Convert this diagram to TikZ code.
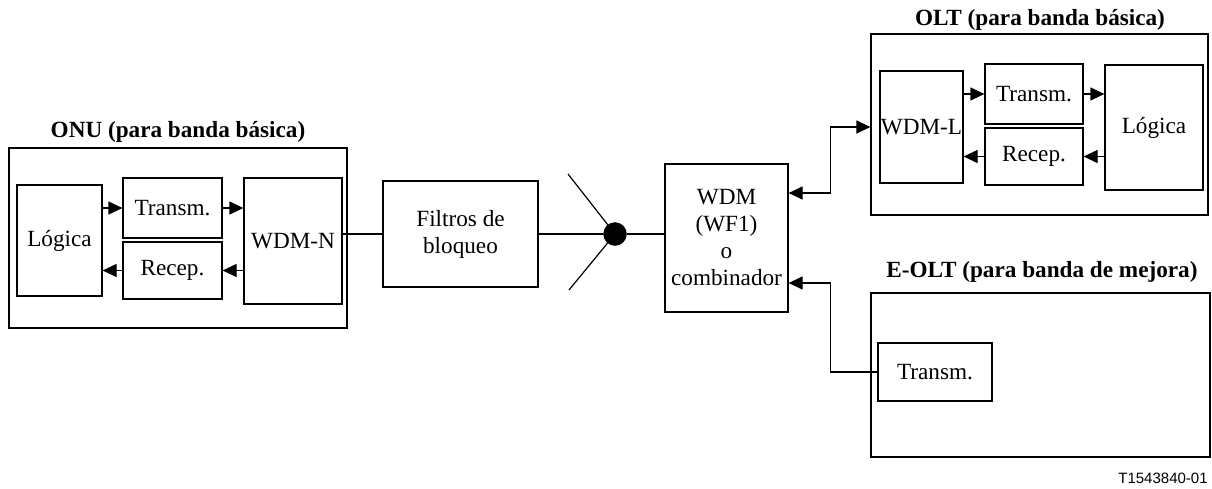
\documentclass[tikz,border=0pt]{standalone}
\usepackage{fontspec}
\setmainfont{Liberation Serif}
\newfontfamily\labelsans{Liberation Sans}
\usetikzlibrary{arrows.meta,calc}
\tikzset{
  box/.style={draw, line width=1.2pt, rectangle, inner sep=0.5pt, align=center,
     font=\fontsize{23.2}{27}\selectfont},
  ttl/.style={font=\fontsize{23.2}{26}\selectfont\bfseries, inner sep=0pt},
  conn/.style={line width=1.2pt},
  arr/.style={conn, -{Triangle[length=14pt,width=13pt]}},
  arrboth/.style={conn, {Triangle[length=14pt,width=13pt]}-{Triangle[length=14pt,width=13pt]}},
}
\begin{document}
\begin{tikzpicture}[x=1pt,y=-1pt]
\useasboundingbox (0,0) rectangle (1212,488);
% ONU
\node[box, minimum width=338pt, minimum height=180pt] (onu) at (178,238) {};
\node[ttl] (onut) at (178,132) {ONU (para banda básica)};
\node[box, minimum width=85pt, minimum height=111pt] (logN) at (59.5,240.5) {Lógica};
\node[box, minimum width=99pt, minimum height=60pt] (txN) at (172.5,208) {Transm.};
\node[box, minimum width=99pt, minimum height=57pt] (rxN) at (172.5,270.5) {Recep.};
\node[box, minimum width=98pt, minimum height=126pt] (wdmN) at (293,241) {WDM-N};
\draw[arr] (logN.east |- txN.west) -- (txN.west);
\draw[arr] (txN.east) -- (txN.east -| wdmN.west);
\draw[arr] (rxN.east -| wdmN.west) -- (rxN.east);
\draw[arr] (rxN.west) -- (rxN.west -| logN.east);
% Filtros
\node[box, minimum width=155pt, minimum height=106pt] (filt) at (460.5,234) {Filtros de\\bloqueo};
\draw[conn] (filt.west -| wdmN.east) -- (filt.west);
% splitter dot
\node[circle, fill=black, draw=black, minimum size=23pt, inner sep=0pt] (dot) at (615,234) {};
\coordinate (br1) at (568,174);
\coordinate (br2) at (569,290);
\draw[conn] (br1) -- (dot.center);
\draw[conn] (br2) -- (dot.center);
\draw[conn] (filt.east) -- (dot);
% WDM combiner
\node[box, minimum width=123pt, minimum height=148pt] (wdm) at (726.5,238) {WDM\\(WF1)\\o\\combinador};
\draw[conn] (dot) -- (dot -| wdm.west);
% OLT
\node[box, minimum width=337pt, minimum height=181pt] (olt) at (1039.5,124.5) {};
\node[ttl] (oltt) at (1040,20) {OLT (para banda básica)};
\node[box, minimum width=83pt, minimum height=112pt] (wdmL) at (921.5,127) {WDM-L};
\node[box, minimum width=98pt, minimum height=60pt] (txL) at (1034,94) {Transm.};
\node[box, minimum width=98pt, minimum height=57pt] (rxL) at (1034,156.5) {Recep.};
\node[box, minimum width=98pt, minimum height=125pt] (logL) at (1154,127.5) {Lógica};
\draw[arr] (txL.west -| wdmL.east) -- (txL.west);
\draw[arr] (txL.east) -- (txL.east -| logL.west);
\draw[arr] (rxL.east -| logL.west) -- (rxL.east);
\draw[arr] (rxL.west) -- (rxL.west -| wdmL.east);
% E-OLT
\node[box, minimum width=339pt, minimum height=164pt] (eolt) at (1040.5,375) {};
\node[ttl] (eoltt) at (1042,272) {E-OLT (para banda de mejora)};
\node[box, minimum width=114pt, minimum height=58pt] (txE) at (935,372) {Transm.};
% connectors to WDM
\coordinate (wu) at ($(wdm.east)+(0,-45)$);
\coordinate (wl) at ($(wdm.east)+(0,45)$);
\draw[arrboth] (wu) -- ++(42,0) |- ($(olt.west)+(0,2.5)$);
\draw[arr] (txE.west) -| ($(wl)+(42,0)$) -- (wl);
% figure id
\node[font=\labelsans\fontsize{15}{17}\selectfont, inner sep=0pt] (fid) at (1163,478) {T1543840-01};
\end{tikzpicture}
\end{document}
